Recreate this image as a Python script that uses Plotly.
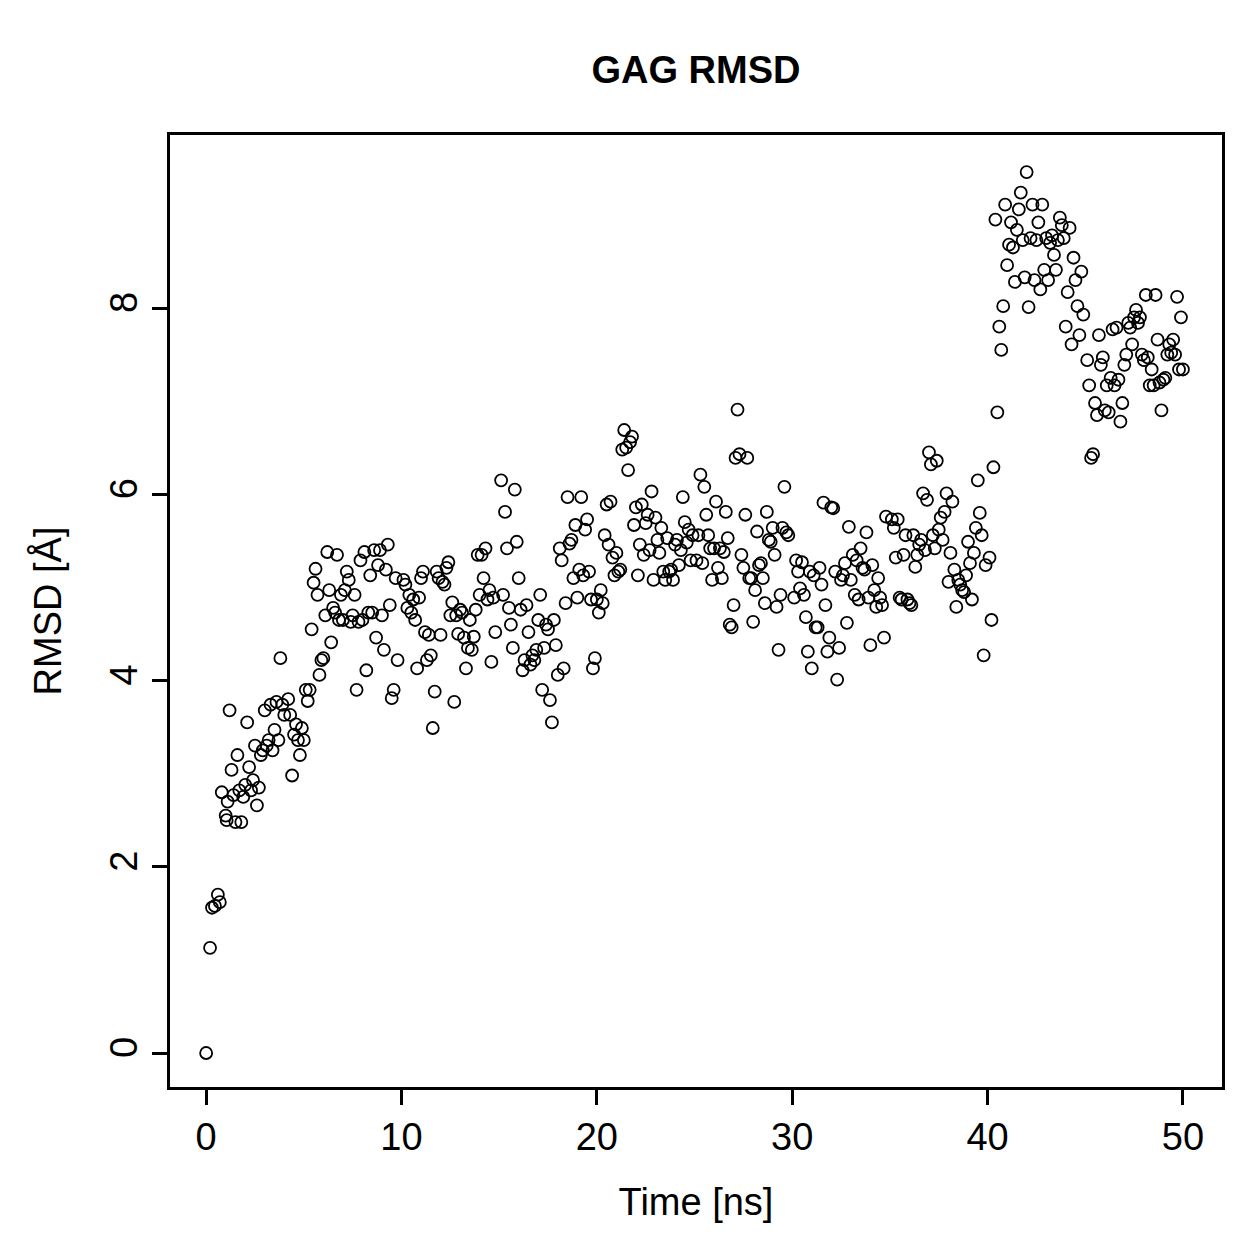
import plotly.graph_objects as go

# ---- data (time in ns, RMSD in Angstrom) ----
t_00_05 = [0, 0.2, 0.3, 0.45, 0.6, 0.7, 0.8, 1.0, 1.05, 1.1,
           1.2, 1.3, 1.4, 1.5, 1.8, 1.6, 1.7, 1.9, 2.0, 2.1,
           2.2, 2.3, 2.4, 2.5, 2.6, 2.7, 2.8, 2.9, 3.0,
           3.1, 3.2, 3.3, 3.4, 3.5, 3.6, 3.7, 3.8, 3.9, 4.0,
           4.2, 4.3, 4.4, 4.5, 4.6, 4.7, 4.8, 4.9, 5.0]
r_00_05 = [0, 1.13, 1.56, 1.58, 1.7, 1.62, 2.8, 2.55, 2.5, 2.7,
           3.68, 3.04, 2.77, 2.48, 2.48, 3.2, 2.82, 2.75, 2.88, 3.55,
           3.07, 2.82, 2.93, 3.3, 2.66, 2.85, 3.2, 3.25, 3.68, 3.3,
           3.36, 3.74, 3.25, 3.47, 3.77, 3.36, 4.24, 3.74, 3.63, 3.8,
           3.63, 2.98, 3.42, 3.53, 3.36, 3.2, 3.49, 3.36]

t_05_10 = [5.1, 5.2, 5.3, 5.4, 5.5, 5.6, 5.7, 5.8, 5.9, 6.0,
           6.1, 6.2, 6.3, 6.4, 6.5, 6.6, 6.7, 6.8, 6.9, 7.0,
           7.1, 7.2, 7.3, 7.4, 7.5, 7.6, 7.7, 7.8, 7.9, 8.0,
           8.1, 8.2, 8.3, 8.4, 8.5, 8.6, 8.7, 8.8, 8.9, 9.0,
           9.1, 9.2, 9.3, 9.4, 9.5, 9.6, 9.7, 9.8]
r_05_10 = [3.9, 3.78, 3.9, 4.55, 5.05, 5.2, 4.92, 4.06, 4.22, 4.24,
           4.7, 5.38, 4.97, 4.41, 4.78, 4.73, 5.35, 4.65, 4.92, 4.65,
           4.97, 5.17, 5.08, 4.63, 4.7, 4.92, 3.9, 4.63, 5.29, 4.65,
           5.38, 4.11, 4.73, 5.13, 4.73, 5.4, 4.46, 5.24, 5.4, 4.7,
           4.33, 5.19, 5.46, 4.81, 3.81, 3.9, 5.1, 4.22]

t_10_15 = [10.1, 10.2, 10.3, 10.4, 10.5, 10.6, 10.7, 10.8, 10.9, 11.0,
           11.1, 11.2, 11.3, 11.4, 11.5, 11.6, 11.7, 11.8, 11.9, 12.0,
           12.1, 12.2, 12.3, 12.4, 12.5, 12.6, 12.7, 12.8, 12.9, 13.0,
           13.1, 13.2, 13.3, 13.4, 13.5, 13.6, 13.7, 13.8, 13.9, 14.0,
           14.1, 14.2, 14.3, 14.4, 14.5, 14.6, 14.7, 14.8]
r_10_15 = [5.08, 5.03, 4.78, 4.92, 4.73, 4.87, 4.65, 4.13, 4.89, 5.1,
           5.17, 4.52, 4.22, 4.49, 4.27, 3.49, 3.88, 5.17, 5.1, 4.49,
           5.06, 5.03, 5.21, 5.27, 4.7, 4.84, 3.77, 4.7, 4.5, 4.76,
           4.73, 4.46, 4.13, 4.35, 4.65, 4.33, 4.47, 4.76, 5.35, 4.92,
           5.35, 5.1, 5.42, 4.87, 4.97, 4.2, 4.89, 4.52]

t_15_20 = [15.1, 15.2, 15.3, 15.4, 15.5, 15.6, 15.7, 15.8, 15.9, 16.0,
           16.1, 16.2, 16.3, 16.4, 16.5, 16.6, 16.7, 16.8, 16.9, 17.0,
           17.1, 17.2, 17.3, 17.4, 17.5, 17.6, 17.7, 17.8, 17.9, 18.0,
           18.1, 18.2, 18.3, 18.4, 18.5, 18.6, 18.7, 18.8, 18.9, 19.0,
           19.1, 19.2, 19.3, 19.4, 19.5, 19.6, 19.7, 19.8, 19.9, 20.0]
r_15_20 = [6.15, 4.92, 5.81, 5.42, 4.78, 4.6, 4.35, 6.05, 5.49, 5.1,
           4.76, 4.11, 4.22, 4.81, 4.52, 4.17, 4.27, 4.22, 4.33, 4.65,
           4.92, 3.9, 4.35, 4.6, 4.55, 3.79, 3.55, 4.65, 4.38, 4.06,
           5.42, 5.29, 4.13, 4.83, 5.97, 5.47, 5.51, 5.1, 5.67, 4.89,
           5.19, 5.97, 5.13, 5.62, 5.73, 5.17, 4.87, 4.13, 4.24, 4.87]

t_20_25 = [20.1, 20.2, 20.3, 20.4, 20.5, 20.6, 20.7, 20.8, 20.9, 21.0,
           21.1, 21.2, 21.3, 21.4, 21.5, 21.6, 21.7, 21.8, 21.9, 22.0,
           22.1, 22.2, 22.3, 22.4, 22.5, 22.6, 22.7, 22.8, 22.9, 23.0,
           23.1, 23.2, 23.3, 23.4, 23.5, 23.6, 23.7, 23.8, 23.9, 24.0,
           24.1, 24.2, 24.3, 24.4, 24.5, 24.6, 24.7, 24.8, 24.9]
r_20_25 = [4.73, 4.97, 4.83, 5.56, 5.89, 5.46, 5.92, 5.32, 5.13, 5.37,
           5.17, 5.19, 6.48, 6.69, 6.5, 6.26, 6.56, 6.62, 5.67, 5.86,
           5.13, 5.46, 5.89, 5.35, 5.69, 5.78, 5.4, 6.03, 5.08, 5.75,
           5.51, 5.37, 5.64, 5.17, 5.08, 5.53, 5.17, 5.19, 5.08, 5.46,
           5.51, 5.24, 5.4, 5.97, 5.7, 5.48, 5.62, 5.29, 5.56]

t_25_30 = [25.1, 25.2, 25.3, 25.4, 25.5, 25.6, 25.7, 25.8, 25.9, 26.0,
           26.1, 26.2, 26.3, 26.4, 26.5, 26.6, 26.7, 26.8, 26.9, 27.0,
           27.1, 27.2, 27.3, 27.4, 27.5, 27.6, 27.7, 27.8, 27.9, 28.0,
           28.1, 28.2, 28.3, 28.4, 28.5, 28.6, 28.7, 28.8, 28.9, 29.0,
           29.1, 29.2, 29.3, 29.4, 29.5, 29.6, 29.7, 29.8]
r_25_30 = [5.29, 5.56, 6.21, 5.26, 6.08, 5.78, 5.56, 5.42, 5.08, 5.42,
           5.92, 5.21, 5.42, 5.1, 5.38, 5.81, 5.53, 4.6, 4.57, 4.81,
           6.39, 6.91, 6.43, 5.35, 5.21, 5.78, 6.39, 5.1, 5.1, 4.63,
           4.97, 5.6, 5.24, 5.26, 5.1, 4.83, 5.81, 5.51, 5.49, 5.64,
           5.35, 4.79, 4.33, 4.92, 5.64, 6.08, 5.59, 5.56]

t_30_35 = [30.1, 30.2, 30.3, 30.4, 30.5, 30.6, 30.7, 30.8, 30.9, 31.0,
           31.1, 31.2, 31.3, 31.4, 31.5, 31.6, 31.7, 31.8, 31.9, 32.0,
           32.1, 32.2, 32.3, 32.4, 32.5, 32.6, 32.7, 32.8, 32.9, 33.0,
           33.1, 33.2, 33.3, 33.4, 33.5, 33.6, 33.7, 33.8, 33.9, 34.0,
           34.1, 34.2, 34.3, 34.4, 34.5, 34.6, 34.7, 34.8]
r_30_35 = [4.89, 5.29, 5.17, 4.99, 5.27, 4.92, 4.68, 4.31, 5.17, 4.13,
           5.13, 4.57, 4.57, 5.21, 5.03, 5.91, 4.81, 4.31, 4.46, 5.86,
           5.85, 5.17, 4.01, 4.35, 5.08, 5.13, 5.26, 4.62, 5.65, 5.08,
           5.35, 4.92, 5.29, 4.87, 5.42, 5.21, 5.19, 5.59, 4.89, 4.38,
           5.24, 4.97, 4.79, 5.1, 4.89, 4.81, 4.46, 5.76]

t_35_40 = [35.1, 35.2, 35.3, 35.4, 35.5, 35.6, 35.7, 35.8, 35.9, 36.0,
           36.1, 36.2, 36.3, 36.4, 36.5, 36.6, 36.7, 36.8, 36.9, 37.0,
           37.1, 37.2, 37.3, 37.4, 37.5, 37.6, 37.7, 37.8, 37.9, 38.0,
           38.1, 38.2, 38.3, 38.4, 38.5, 38.6, 38.7, 38.8, 38.9, 39.0,
           39.1, 39.2, 39.3, 39.4, 39.5, 39.6, 39.7, 39.8, 39.9]
r_35_40 = [5.73, 5.64, 5.32, 5.73, 4.89, 4.87, 5.35, 5.56, 4.87, 4.83,
           4.81, 5.56, 5.22, 5.35, 5.46, 5.51, 6.01, 5.4, 5.94, 6.45,
           6.32, 5.56, 5.42, 6.36, 5.62, 5.75, 5.51, 5.81, 6.01, 5.06,
           5.37, 5.92, 5.19, 4.79, 5.08, 5.03, 4.97, 4.95, 5.13, 5.49,
           5.26, 4.87, 5.37, 5.64, 6.15, 5.8, 5.56, 4.27, 5.24]

t_40_45 = [40.1, 40.2, 40.3, 40.4, 40.5, 40.6, 40.7, 40.8, 40.9, 41.0,
           41.1, 41.2, 41.3, 41.4, 41.5, 41.6, 41.7, 41.8, 41.9, 42.0,
           42.1, 42.2, 42.3, 42.4, 42.5, 42.6, 42.7, 42.8, 42.9, 43.0,
           43.1, 43.2, 43.3, 43.4, 43.5, 43.6, 43.7, 43.8, 43.9, 44.0,
           44.1, 44.2, 44.3, 44.4, 44.5, 44.6, 44.7, 44.8, 44.9]
r_40_45 = [5.32, 4.65, 6.29, 8.95, 6.88, 7.8, 7.55, 8.02, 9.11, 8.46,
           8.68, 8.92, 8.65, 8.28, 8.84, 9.06, 9.24, 8.73, 8.33, 9.46,
           8.01, 8.75, 9.11, 8.3, 8.73, 8.92, 8.2, 9.11, 8.41, 8.75,
           8.3, 8.7, 8.78, 8.57, 8.41, 8.73, 8.97, 8.89, 8.75, 7.8,
           8.17, 8.86, 7.61, 8.54, 8.3, 8.02, 7.71, 8.39, 7.93]

t_45_50 = [45.1, 45.2, 45.3, 45.4, 45.5, 45.6, 45.7, 45.8, 45.9, 46.0,
           46.1, 46.2, 46.3, 46.4, 46.5, 46.6, 46.7, 46.8, 46.9, 47.0,
           47.1, 47.2, 47.3, 47.4, 47.5, 47.6, 47.7, 47.8, 47.9, 48.0,
           48.1, 48.2, 48.3, 48.4, 48.5, 48.6, 48.7, 48.8, 48.9, 49.0,
           49.1, 49.2, 49.3, 49.4, 49.5, 49.6, 49.7, 49.8, 49.9, 50.0]
r_45_50 = [7.44, 7.17, 6.39, 6.43, 6.98, 6.85, 7.71, 7.39, 7.47, 6.9,
           7.17, 6.88, 7.25, 7.77, 7.17, 7.79, 7.23, 6.78, 6.98, 7.39,
           7.5, 7.84, 7.79, 7.61, 7.9, 7.98, 7.84, 7.9, 7.5, 7.44,
           8.14, 7.47, 7.17, 7.34, 7.17, 8.14, 7.66, 7.2, 6.9, 7.23,
           7.25, 7.5, 7.61, 7.52, 7.66, 7.5, 8.12, 7.34, 7.9, 7.34]

x_ticks = [0, 10, 20, 30, 40, 50]
y_ticks = [0, 2, 4, 6, 8]

time_ns = (t_00_05 + t_05_10 + t_10_15 + t_15_20 + t_20_25 +
           t_25_30 + t_30_35 + t_35_40 + t_40_45 + t_45_50)
rmsd = (r_00_05 + r_05_10 + r_10_15 + r_15_20 + r_20_25 +
        r_25_30 + r_30_35 + r_35_40 + r_40_45 + r_45_50)
n = min(len(time_ns), len(rmsd))
time_ns, rmsd = time_ns[:n], rmsd[:n]

FONT = "Liberation Sans, Arial, Helvetica, sans-serif"

fig = go.Figure()
fig.add_trace(go.Scatter(
    x=time_ns, y=rmsd, mode="markers",
    marker=dict(symbol="circle-open", size=12, color="black",
                line=dict(color="black", width=1.8)),
    showlegend=False, hoverinfo="x+y",
))

fig.update_layout(
    width=1259, height=1259,
    margin=dict(l=170, r=37, t=135, b=172),
    paper_bgcolor="white", plot_bgcolor="white",
    font=dict(family=FONT, size=38, color="black"),
    title=dict(text="<b>GAG RMSD</b>", x=0.5528, xanchor="center",
               y=1 - 70 / 1259, yanchor="middle",
               font=dict(family=FONT, size=38, color="black")),
    xaxis=dict(range=[-1.85, 52.0], tickvals=x_ticks,
               ticktext=[str(v) for v in x_ticks],
               showgrid=False, zeroline=False,
               showline=True, mirror=True, linecolor="black", linewidth=2.5,
               ticks="outside", ticklen=15, tickwidth=2.5, tickcolor="black",
               tickfont=dict(family=FONT, size=38, color="black"),
               title=dict(text="Time [ns]", standoff=32,
                          font=dict(family=FONT, size=38, color="black"))),
    yaxis=dict(range=[-0.365, 9.858], tickvals=y_ticks,
               ticktext=[str(v) for v in y_ticks],
               showgrid=False, zeroline=False,
               showline=True, mirror=True, linecolor="black", linewidth=2.5,
               ticks="outside", ticklen=15, tickwidth=2.5, tickcolor="black",
               tickangle=-90,
               tickfont=dict(family=FONT, size=38, color="black"),
               title=dict(text="RMSD [Å]", standoff=30,
                          font=dict(family=FONT, size=38, color="black"))),
)

fig.write_html("out.html")
